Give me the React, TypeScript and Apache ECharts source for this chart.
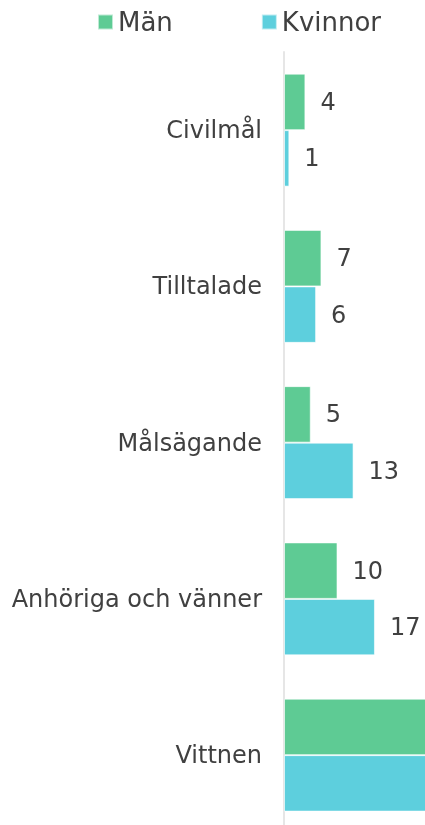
import React, { useEffect, useRef } from "react";
import * as echarts from "echarts";

const categories = ["Civilmål", "Tilltalade", "Målsägande", "Anhöriga och vänner", "Vittnen"];
const seriesNames = ["Män", "Kvinnor"];
const manValues = [4, 7, 5, 10, 34];
const kvinnorValues = [1, 6, 13, 17, 38];
const colors = ["#5ECB94", "#5DCFDD"];

export default function App() {
  const ref = useRef<HTMLDivElement>(null);
  useEffect(() => {
    if (!ref.current) return;
    const chart = echarts.init(ref.current, undefined, { renderer: "svg" });
    const font = "DejaVu Sans, Verdana, sans-serif";
    const label = {
      show: true,
      position: "right",
      distance: 15,
      fontSize: 24,
      color: "#404040",
      fontFamily: font,
    };
    chart.setOption({
      animation: false,
      color: colors,
      legend: {
        left: 97,
        top: 9,
        padding: 0,
        itemWidth: 15,
        itemHeight: 15,
        itemGap: 88,
        icon: "rect",
        textStyle: { fontSize: 26, color: "#404040", fontFamily: font },
        data: seriesNames,
      },
      grid: { left: 284, width: 267.5, top: 52, height: 781.25, containLabel: false },
      xAxis: {
        type: "value",
        min: 0,
        max: 50,
        show: false,
      },
      yAxis: {
        type: "category",
        data: categories,
        inverse: true,
        axisLine: { show: true, lineStyle: { color: "#e6e6e6", width: 2 } },
        axisTick: { show: false },
        axisLabel: { fontSize: 24, color: "#404040", fontFamily: font, margin: 22 },
      },
      series: [
        {
          name: seriesNames[0],
          type: "bar",
          data: manValues,
          barGap: "0%",
          barCategoryGap: "27.7%",
          itemStyle: { borderColor: "rgba(255,255,255,0.6)", borderWidth: 1 },
          label,
        },
        {
          name: seriesNames[1],
          type: "bar",
          data: kvinnorValues,
          barGap: "0%",
          barCategoryGap: "27.7%",
          itemStyle: { borderColor: "rgba(255,255,255,0.6)", borderWidth: 1 },
          label,
        },
      ],
    });
    return () => chart.dispose();
  }, []);
  return (
    <div
      style={{
        position: "fixed",
        left: 0,
        top: 0,
        width: 425,
        height: 825,
        overflow: "hidden",
      }}
    >
      <div ref={ref} style={{ width: 600, height: 850 }} />
    </div>
  );
}
